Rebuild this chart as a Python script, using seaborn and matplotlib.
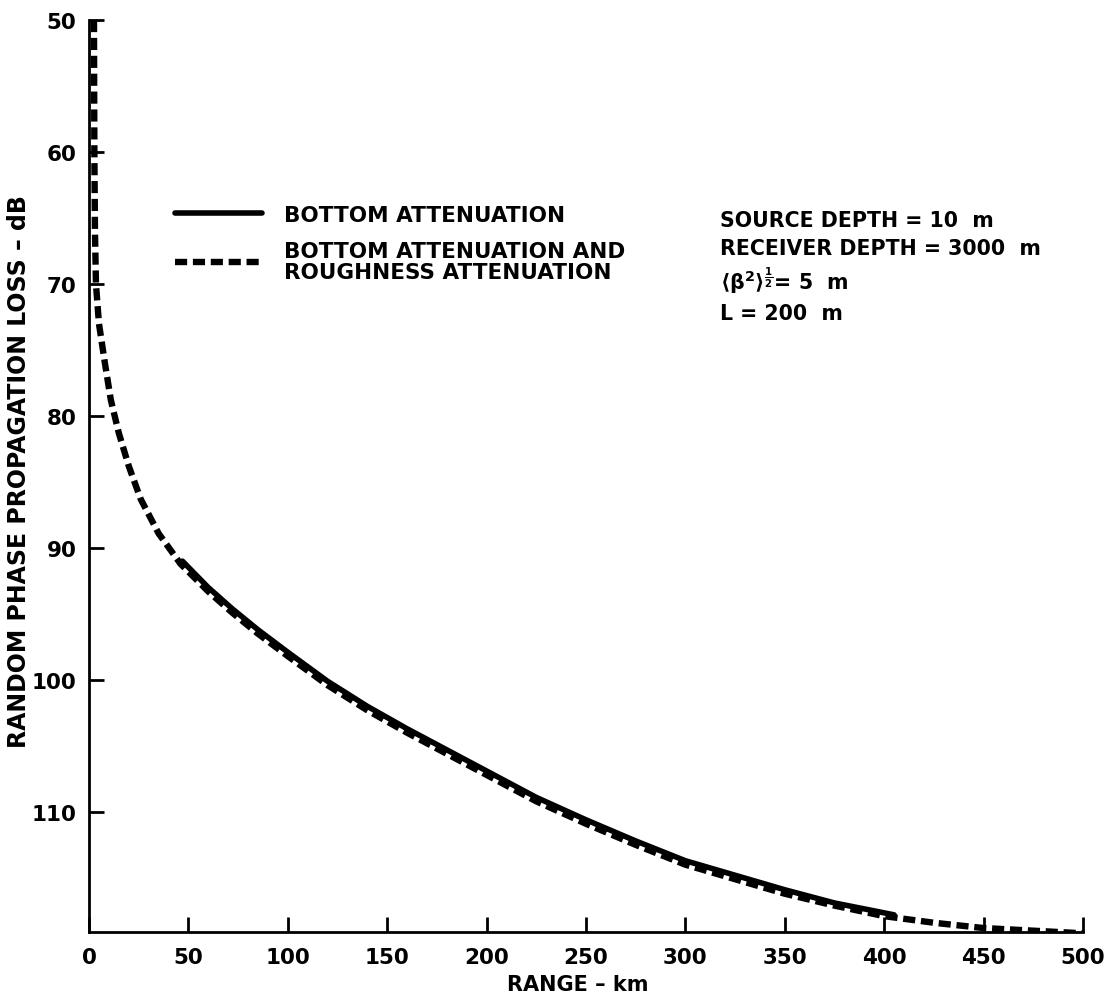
import matplotlib
matplotlib.use("Agg")
import matplotlib.pyplot as plt
import seaborn as sns
import pandas as pd

# ---- data ----
range_rough_km = [2.5, 2.7, 3.0, 3.5, 5, 8, 11, 15, 20, 26, 35, 46, 60, 72, 85,
                  100, 120, 140, 160, 180, 200, 225, 250, 275, 300, 325, 350,
                  375, 400, 425, 450, 475, 500]
loss_rough_db = [50.0, 60.0, 66.0, 70.0, 73.0, 76.0, 78.8, 81.3, 83.8, 86.3, 88.9,
                 91.2, 93.3, 94.9, 96.5, 98.2, 100.4, 102.3, 104.0, 105.6, 107.2,
                 109.2, 110.9, 112.5, 114.0, 115.1, 116.2, 117.1, 117.9, 118.4,
                 118.8, 119.0, 119.2]

range_bottom_km = [47, 60, 72, 85, 100, 120, 140, 160, 180, 200, 225, 250, 275,
                   300, 325, 350, 375, 405]
loss_bottom_db = [91.0, 93.0, 94.6, 96.2, 97.9, 100.1, 102.0, 103.7, 105.3, 106.9,
                  108.9, 110.6, 112.2, 113.7, 114.8, 115.9, 116.9, 117.8]

x_ticks = [0, 50, 100, 150, 200, 250, 300, 350, 400, 450, 500]
y_ticks = [50, 60, 70, 80, 90, 100, 110]

label_bottom = "BOTTOM ATTENUATION"
label_rough = "BOTTOM ATTENUATION AND\nROUGHNESS ATTENUATION"
param_lines = ["SOURCE DEPTH = 10  m", "RECEIVER DEPTH = 3000  m",
               r"$\langle\beta^{2}\rangle^{\frac{1}{2}}$= 5  m", "L = 200  m"]

sns.set_theme(style="ticks")
plt.rcParams["font.family"] = ["DejaVu Sans"]
plt.rcParams["font.weight"] = "bold"
plt.rcParams["text.color"] = "black"
plt.rcParams["axes.labelcolor"] = "black"
plt.rcParams["mathtext.fontset"] = "dejavusans"
plt.rcParams["mathtext.default"] = "bf"

df_b = pd.DataFrame({"range": range_bottom_km, "loss": loss_bottom_db})
df_r = pd.DataFrame({"range": range_rough_km, "loss": loss_rough_db})

fig = plt.figure(figsize=(11.15, 10.03), dpi=100, facecolor="white")
ax = fig.add_axes([89 / 1115, 1 - 933 / 1003, (1083 - 89) / 1115, (933 - 21) / 1003])
ax.set_facecolor("white")

sns.lineplot(data=df_b, x="range", y="loss", ax=ax, color="black", lw=4.0,
             label=label_bottom, sort=False, estimator=None)
sns.lineplot(data=df_r, x="range", y="loss", ax=ax, color="black", lw=4.6,
             dashes=False, label=label_rough, sort=False, estimator=None)
ax.lines[1].set_dashes((1.9, 0.9))

ax.set_xlim(0, 500)
ax.set_ylim(119.1, 50)
ax.set_xticks(x_ticks)
ax.set_yticks(y_ticks)
ax.set_xticklabels([str(v) for v in x_ticks])
ax.set_yticklabels([str(v) for v in y_ticks])
ax.tick_params(axis="both", direction="in", length=11, width=2, labelsize=15.5,
               colors="black")
ax.tick_params(axis="x", pad=11)
ax.tick_params(axis="y", pad=9)
for lab in ax.get_xticklabels() + ax.get_yticklabels():
    lab.set_fontweight("bold")
for s in ["top", "right"]:
    ax.spines[s].set_visible(False)
for s in ["left", "bottom"]:
    ax.spines[s].set_linewidth(2)
    ax.spines[s].set_color("black")

ax.set_xlabel("RANGE \u2013 km", fontsize=15, fontweight="bold")
ax.set_ylabel("RANDOM PHASE PROPAGATION LOSS \u2013 dB", fontsize=17,
              fontweight="bold")
ax.xaxis.set_label_coords((578 - 89) / 994, 1 - (985 - 21) / 912)
ax.xaxis.label.set_va("center")
ax.yaxis.set_label_coords((19 - 89) / 994, 1 - (472 - 21) / 912)
ax.yaxis.label.set_va("center")

leg = ax.legend(loc="upper left", bbox_to_anchor=((166 - 89) / 994, 1 - (197 - 21) / 912),
                frameon=False, fontsize=15.5, handlelength=4.05, handletextpad=1.05,
                labelspacing=0.75, borderaxespad=0)
for t in leg.get_texts():
    t.set_fontweight("bold")
    t.set_linespacing(1.07)

for i, txt in enumerate(param_lines):
    yy = [221, 249, 281, 314][i]
    ax.text((720 - 89) / 994, 1 - (yy - 21) / 912, txt, transform=ax.transAxes,
            fontsize=14.8, fontweight="bold", va="center", ha="left")

fig.savefig("out.png", dpi=100, facecolor="white")
